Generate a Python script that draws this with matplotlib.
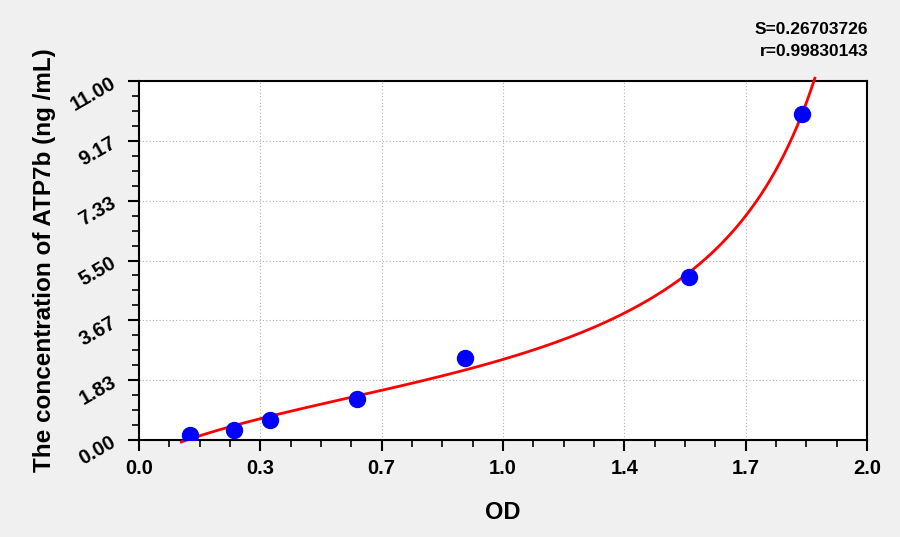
import numpy as np
import matplotlib
matplotlib.use("Agg")
import matplotlib.pyplot as plt
from matplotlib.ticker import AutoMinorLocator

# standard points
od   = [0.140, 0.262, 0.361, 0.600, 0.896, 1.512, 1.821]
conc = [0.156, 0.3125, 0.625, 1.25, 2.5, 5.0, 10.0]

x_ticks  = [0.0, 1/3, 2/3, 1.0, 4/3, 5/3, 2.0]
x_labels = ["0.0", "0.3", "0.7", "1.0", "1.4", "1.7", "2.0"]
y_ticks  = [0.0, 11/6, 22/6, 33/6, 44/6, 55/6, 11.0]
y_labels = ["0.00", "1.83", "3.67", "5.50", "7.33", "9.17", "11.00"]

s_text = "S=0.26703726"
r_text = "r=0.99830143"

plt.rcParams["font.family"] = ["Liberation Sans", "DejaVu Sans"]
plt.rcParams["font.weight"] = "bold"


# %% rational fit y = (a + b x) / (1 + c x + d x^2), least squares (LM)
def model(p, x):
    return (p[0] + p[1] * x) / (1 + p[2] * x + p[3] * x**2)

x = np.array(od)
y = np.array(conc)
A = np.column_stack([np.ones_like(x), x, -x * y, -x**2 * y])
p = np.linalg.lstsq(A, y, rcond = None)[0]

lam = 1e-2
sse = np.sum((y - model(p, x))**2)
for _ in range(3000):
    r = y - model(p, x)
    J = np.empty((len(x), 4))
    for k in range(4):
        dp = np.zeros(4)
        dp[k] = 1e-7 * max(1.0, abs(p[k]))
        J[:, k] = (model(p + dp, x) - model(p, x)) / dp[k]
    H = J.T @ J
    try:
        step = np.linalg.solve(H + lam * np.diag(np.diag(H)) + 1e-12 * np.eye(4), J.T @ r)
    except np.linalg.LinAlgError:
        lam *= 3
        continue
    new = np.sum((y - model(p + step, x))**2)
    if np.isfinite(new) and new < sse:
        p, sse = p + step, new
        lam /= 3
    else:
        lam *= 3

xs = np.linspace(0.035, 1.95, 800)
ys = model(p, xs)
keep = (ys >= -0.06) & (np.cumsum(ys > 11.15) == 0)
xs, ys = xs[keep], ys[keep]


# %% figure
fig = plt.figure(figsize = (9, 5.37), dpi = 100, facecolor = "#f0f0f0")
ax = fig.add_axes([0.1544, 0.1806, 0.809, 0.6685])
ax.set_facecolor("white")

ax.plot(xs, ys, color = "#ff0000", lw = 2, clip_on = False, zorder = 3)
ax.plot(od, conc, "o", color = "#0000ff", ms = 11.5, zorder = 4)

ax.set_xlim(0, 2)
ax.set_ylim(0, 11)
ax.set_xticks(x_ticks)
ax.set_xticklabels(x_labels, fontsize = 14.5, fontweight = "bold")
ax.set_yticks(y_ticks)
ax.set_yticklabels(y_labels, fontsize = 14.5, fontweight = "bold", rotation = 30)
ax.xaxis.set_minor_locator(AutoMinorLocator(4))
ax.yaxis.set_minor_locator(AutoMinorLocator(4))
ax.tick_params(which = "major", length = 8, width = 1.5, direction = "out", pad = 6)
ax.tick_params(which = "minor", length = 5, width = 1.2, direction = "out")

ax.grid(True, which = "major", color = "#b0b0b0", linestyle = (0, (1, 2)), lw = 0.8)
for sp in ax.spines.values():
    sp.set_linewidth(1.5)

ax.set_xlabel("OD", fontsize = 17, fontweight = "bold", labelpad = 16)
ax.set_ylabel("The concentration of ATP7b (ng /mL)", fontsize = 17.5, fontweight = "bold", labelpad = 8)

fig.text(0.965, 0.945, s_text, ha = "right", va = "center", fontsize = 12.5, fontweight = "bold")
fig.text(0.965, 0.905, r_text, ha = "right", va = "center", fontsize = 12.5, fontweight = "bold")

fig.savefig("out.png", dpi = 100, facecolor = fig.get_facecolor())
